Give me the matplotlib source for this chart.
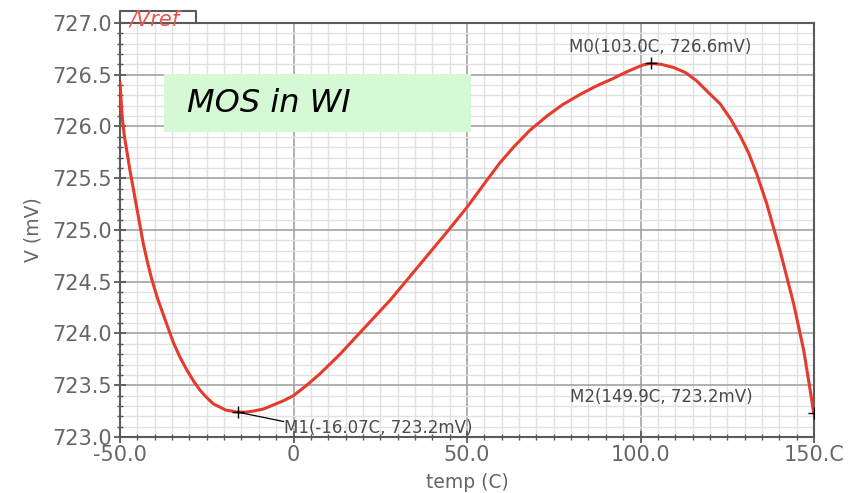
import numpy as np
import matplotlib
matplotlib.use("Agg")
import matplotlib.pyplot as plt
from matplotlib.patches import Rectangle
from matplotlib.ticker import MultipleLocator

# Data
temp = [-50.0, -49.4, -48.8, -47.1, -45.2, -43.3, -42.1, -40.9, -39.2, -37.5,
        -36.0, -34.6, -32.7, -30.8, -28.8, -26.9, -25.0, -23.1, -21.3, -19.5,
        -16.07, -13.8, -11.6, -8.7, -5.8, -2.9, 0.0, 3.8, 7.6, 13.4,
        19.2, 27.8, 36.5, 44.2, 50.0, 55.7, 59.5, 63.4, 68.0, 73.0,
        77.5, 82.6, 87.5, 92.2, 95.5, 98.9, 100.8, 103.0, 106.0, 109.5,
        113.0, 116.2, 119.5, 122.9, 126.0, 128.7, 131.2, 133.5, 136.4, 140.2,
        144.1, 147.0, 148.9, 149.9]
vref = [726.42, 726.10, 725.92, 725.57, 725.22, 724.87, 724.69, 724.53, 724.34, 724.18,
        724.04, 723.91, 723.77, 723.65, 723.54, 723.45, 723.38, 723.32, 723.29, 723.26,
        723.24, 723.24, 723.25, 723.27, 723.31, 723.35, 723.40, 723.50, 723.61, 723.80,
        724.01, 724.32, 724.67, 724.98, 725.22, 725.48, 725.65, 725.80, 725.96, 726.10,
        726.21, 726.31, 726.395, 726.465, 726.52, 726.57, 726.595, 726.61, 726.60, 726.57,
        726.52, 726.44, 726.33, 726.22, 726.07, 725.91, 725.74, 725.54, 725.25, 724.80,
        724.29, 723.84, 723.45, 723.23]

marker_t = [103.0, -16.07, 149.9]
marker_v = [726.61, 723.24, 723.23]
marker_labels = ["M0(103.0C, 726.6mV)", "M1(-16.07C, 723.2mV)", "M2(149.9C, 723.2mV)"]

xticks = [-50, 0, 50, 100, 150]
xtick_labels = ["-50.0", "0", "50.0", "100.0", "150.C"]
yticks = [723.0, 723.5, 724.0, 724.5, 725.0, 725.5, 726.0, 726.5, 727.0]

gray = "#5a5a5a"
txtgray = "#666666"

fig = plt.figure(figsize=(8.56, 4.93), dpi=100)
ax = fig.add_axes([0.1402, 0.1136, 0.8108, 0.8398])

ax.set_xlim(-50, 150)
ax.set_ylim(723.0, 727.0)

# grid
ax.xaxis.set_minor_locator(MultipleLocator(5))
ax.yaxis.set_minor_locator(MultipleLocator(0.1))
ax.set_xticks(xticks)
ax.set_xticklabels(xtick_labels)
ax.set_yticks(yticks)
ax.set_yticklabels([f"{v:.1f}" for v in yticks])
ax.grid(which="minor", color="#e2e2e2", lw=1.0)
ax.grid(which="major", color="#a3a3a3", lw=1.2)
ax.set_axisbelow(True)

ax.tick_params(which="major", direction="inout", length=9, width=1.3, color=gray,
               labelsize=15, labelcolor=txtgray, pad=1)
ax.tick_params(which="minor", direction="inout", length=5, width=1.0, color=gray)
for s in ax.spines.values():
    s.set_color(gray)
    s.set_linewidth(1.5)

ax.set_xlabel("temp (C)", fontsize=13.5, color=txtgray, va="top")
ax.set_ylabel("V (mV)", fontsize=13.5, color=txtgray)
ax.xaxis.set_label_coords(0.5, -0.088)
ax.yaxis.set_label_coords(-0.112, 0.5)

# curve
ax.plot(temp, vref, color="#e53a2c", lw=2.2, zorder=4)

# markers
ax.plot(marker_t, marker_v, "+", color="black", ms=9, mew=1.0, zorder=5)
ax.text(105.6, 726.77, marker_labels[0], fontsize=12, color="#4a4a4a",
        ha="center", va="center")
ax.plot([marker_t[1], -2.9], [marker_v[1], 723.15], color="black", lw=0.9, zorder=5)
ax.text(-2.7, 723.09, marker_labels[1], fontsize=12, color="#4a4a4a",
        ha="left", va="center")
ax.text(105.9, 723.39, marker_labels[2], fontsize=12, color="#4a4a4a",
        ha="center", va="center")

# "MOS in WI" box
ax.add_patch(Rectangle((-37.3, 725.95), 88.5, 0.56, facecolor="#d4f9d4",
                       edgecolor="none", zorder=3))
ax.text(-30.7, 726.22, "MOS in WI", fontsize=23, style="italic", color="black",
        ha="left", va="center", zorder=6)

# "/Vref" tab over top-left corner
ax.plot([0, 0, 0.109, 0.109], [1.0, 1.029, 1.029, 1.0], transform=ax.transAxes,
        color=gray, lw=1.5, clip_on=False)
ax.text(0.013, 1.009, "/Vref", transform=ax.transAxes, fontsize=15,
        style="italic", color="#e8574e", ha="left", va="center")

fig.savefig("out.png", dpi=100)
